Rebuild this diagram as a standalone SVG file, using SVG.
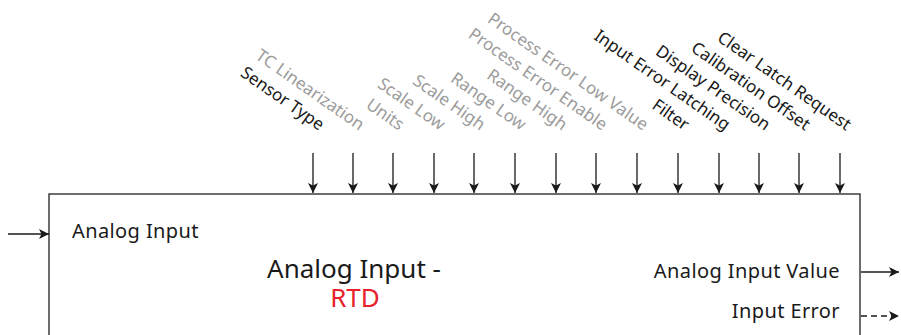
<svg xmlns="http://www.w3.org/2000/svg" width="901" height="335" viewBox="0 0 901 335">
<defs>
<style>
text{font-family:"Noto Sans","Open Sans","DejaVu Sans",sans-serif;}
.lbl{font-size:17px;text-anchor:end;}
.blk{fill:#1a1a1a;}
.gry{fill:#9c9c9c;}
.port{font-size:20px;letter-spacing:0.4px;fill:#1a1a1a;}
.conn{stroke:#1a1a1a;stroke-width:1.3;fill:none;}
.box{fill:#ffffff;stroke:#3c3c3c;stroke-width:1.5;}
</style>
<marker id="ah" viewBox="0 0 10 10" refX="10" refY="5" markerWidth="10" markerHeight="10" markerUnits="userSpaceOnUse" orient="auto">
<path d="M0,0 L10,5 L0,10 L2.5,5 Z" fill="#1a1a1a"/>
</marker>
</defs>
<g id="block">
<rect class="box" x="49" y="194" width="811" height="160"/>
<text class="port" x="72" y="238">Analog Input</text>
<text x="354" y="278" font-size="26" fill="#1a1a1a" text-anchor="middle">Analog Input -</text>
<text x="355" y="307" font-size="26" fill="#e8212b" text-anchor="middle">RTD</text>
<text class="port" x="840" y="278" text-anchor="end">Analog Input Value</text>
<text class="port" x="840" y="318" text-anchor="end">Input Error</text>
</g>
<g id="labels">
<text class="lbl blk" transform="translate(319,131) rotate(35)">Sensor Type</text>
<text class="lbl gry" transform="translate(359,131) rotate(35)">TC Linearization</text>
<text class="lbl gry" transform="translate(399,131) rotate(35)">Units</text>
<text class="lbl gry" transform="translate(440,131) rotate(35)">Scale Low</text>
<text class="lbl gry" transform="translate(480,131) rotate(35)">Scale High</text>
<text class="lbl gry" transform="translate(521,131) rotate(35)">Range Low</text>
<text class="lbl gry" transform="translate(562,131) rotate(35)">Range High</text>
<text class="lbl gry" transform="translate(602,131) rotate(35)">Process Error Enable</text>
<text class="lbl gry" transform="translate(643,131) rotate(35)">Process Error Low Value</text>
<text class="lbl blk" transform="translate(684,131) rotate(35)">Filter</text>
<text class="lbl blk" transform="translate(725,131) rotate(35)">Input Error Latching</text>
<text class="lbl blk" transform="translate(765,131) rotate(35)">Display Precision</text>
<text class="lbl blk" transform="translate(805,131) rotate(35)">Calibration Offset</text>
<text class="lbl blk" transform="translate(846,131) rotate(35)">Clear Latch Request</text>
</g>
<g id="connectors">
<line class="conn" x1="8" y1="234" x2="49" y2="234" marker-end="url(#ah)"/>
<line class="conn" x1="313" y1="153" x2="313" y2="193" marker-end="url(#ah)"/>
<line class="conn" x1="353" y1="153" x2="353" y2="193" marker-end="url(#ah)"/>
<line class="conn" x1="393" y1="153" x2="393" y2="193" marker-end="url(#ah)"/>
<line class="conn" x1="434" y1="153" x2="434" y2="193" marker-end="url(#ah)"/>
<line class="conn" x1="474" y1="153" x2="474" y2="193" marker-end="url(#ah)"/>
<line class="conn" x1="515" y1="153" x2="515" y2="193" marker-end="url(#ah)"/>
<line class="conn" x1="556" y1="153" x2="556" y2="193" marker-end="url(#ah)"/>
<line class="conn" x1="596" y1="153" x2="596" y2="193" marker-end="url(#ah)"/>
<line class="conn" x1="637" y1="153" x2="637" y2="193" marker-end="url(#ah)"/>
<line class="conn" x1="678" y1="153" x2="678" y2="193" marker-end="url(#ah)"/>
<line class="conn" x1="719" y1="153" x2="719" y2="193" marker-end="url(#ah)"/>
<line class="conn" x1="759" y1="153" x2="759" y2="193" marker-end="url(#ah)"/>
<line class="conn" x1="799" y1="153" x2="799" y2="193" marker-end="url(#ah)"/>
<line class="conn" x1="840" y1="153" x2="840" y2="193" marker-end="url(#ah)"/>
<line class="conn" x1="861" y1="272" x2="899" y2="272" marker-end="url(#ah)"/>
<line class="conn" x1="861" y1="316" x2="899" y2="316" stroke-dasharray="6,4" marker-end="url(#ah)"/>
</g>
</svg>
